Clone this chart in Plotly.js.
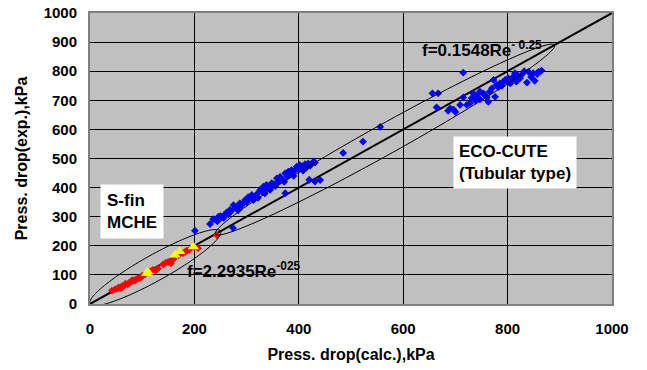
<!DOCTYPE html>
<html>
<head>
<meta charset="utf-8">
<script src="https://cdn.plot.ly/plotly-3.0.1.min.js"></script>
<style>html,body{margin:0;padding:0;background:#fff;}#chart{width:647px;height:370px;}</style>
</head>
<body>
<div id="chart"></div>
<script>
// ECO-CUTE (Tubular type) measurements, blue diamonds
const ecoCalc = [
  230,236,246,252,259,268,275,281,287,297,303,310,313,326,332,338,348,358,364,374,380,386,396,402,412,418,428,431,
  338,361,240,244,250,256,262,265,270,278,284,290,293,300,306,316,320,322,330,335,342,345,352,355,368,372,378,384,390,392,400,406,408,415,422,
  201,274,374,420,431,441,485,523,556,
  656,667,664,686,696,709,722,715,731,741,747,753,760,763,766,770,776,779,785,792,798,801,805,811,814,817,824,837,840,852,849,859,865,773,747,734,715,
  728,738,756,782,789,795,808,820,828,845,832,857,690,700
];
const ecoExp = [
  275,292,300,298,309,323,340,332,346,357,367,375,357,392,403,409,415,432,437,449,455,460,472,478,481,483,489,486,
  398,420,290,284,302,296,315,308,318,330,322,338,345,350,362,370,378,365,385,380,400,392,412,405,428,420,438,446,440,458,462,468,458,470,476,
  252,261,381,427,421,426,519,558,609,
  724,724,676,664,669,684,684,710,707,715,703,724,710,695,730,741,712,753,758,764,767,776,758,781,793,764,776,761,798,767,793,798,802,770,730,724,795,
  690,700,720,745,750,770,772,785,790,780,800,790,672,660
];

// S-fin MCHE measurements, red diamonds
const sfinCalc = [42,48,52,55,58,60,63,66,68,72,75,78,80,83,86,90,93,96,100,106,115,120,126,130,145,150,155,160,170,178,182,185,200,207,243,62,88,98,140,190];
const sfinExp  = [46,50,53,57,55,60,62,64,70,68,73,75,80,82,80,86,88,90,97,103,112,117,115,122,142,145,140,155,168,175,178,183,195,192,237,58,84,93,136,186];

// S-fin MCHE, yellow triangles
const yelCalc = [108,111,163,172,198];
const yelExp  = [105,110,168,180,197];

// Reference line y = x
const lineXY = [0, 1000];

// Tick values
const xTicks = [0, 200, 400, 600, 800, 1000];
const yTicks = [0, 100, 200, 300, 400, 500, 600, 700, 800, 900, 1000];

const W = 522, H = 291; // plot area size in px
const FONT = 'Liberation Sans, Arial, sans-serif';

function ellipsePath(d0, d1, bPx) {
  const sx = W / 1000, sy = H / 1000;
  const x0 = d0 * sx, y0 = d0 * sy, x1 = d1 * sx, y1 = d1 * sy;
  const cx = (x0 + x1) / 2, cy = (y0 + y1) / 2;
  const a = Math.hypot(x1 - x0, y1 - y0) / 2;
  const th = Math.atan2(y1 - y0, x1 - x0);
  let p = '';
  const n = 120;
  for (let i = 0; i <= n; i++) {
    const t = 2 * Math.PI * i / n;
    const px = cx + a * Math.cos(t) * Math.cos(th) - bPx * Math.sin(t) * Math.sin(th);
    const py = cy + a * Math.cos(t) * Math.sin(th) + bPx * Math.sin(t) * Math.cos(th);
    p += (i === 0 ? 'M' : 'L') + (px / sx).toFixed(2) + ',' + (py / sy).toFixed(2);
  }
  return p + 'Z';
}

const traces = [
  {x: lineXY, y: lineXY, mode: 'lines', line: {color: '#000', width: 2}, hoverinfo: 'skip'},
  {x: ecoCalc, y: ecoExp, mode: 'markers', marker: {symbol: 'diamond', size: 6, color: '#0000FF'}},
  {x: sfinCalc, y: sfinExp, mode: 'markers', marker: {symbol: 'diamond', size: 6, color: '#FF0000'}},
  {x: yelCalc, y: yelExp, mode: 'markers', marker: {symbol: 'triangle-up', size: 10, color: '#FFFF00'}}
];

const axisCommon = {
  range: [0, 1000], showgrid: true, gridcolor: '#000', gridwidth: 1,
  showline: true, linecolor: '#808080', linewidth: 2, mirror: true,
  zeroline: false, ticks: '', fixedrange: true,
  tickfont: {family: FONT, size: 15, color: '#000', weight: 'bold'}
};

const layout = {
  width: 647, height: 370,
  margin: {l: 90, r: 35, t: 13, b: 66},
  paper_bgcolor: '#fff', plot_bgcolor: '#C0C0C0',
  showlegend: false,
  xaxis: Object.assign({}, axisCommon, {
    tickvals: xTicks, ticklabelstandoff: 10,
    title: {text: 'Press. drop(calc.),kPa', font: {family: FONT, size: 16, color: '#000', weight: 'bold'}, standoff: 13}
  }),
  yaxis: Object.assign({}, axisCommon, {
    tickvals: yTicks, ticklabelstandoff: 8,
    title: {text: 'Press. drop(exp.),kPa', font: {family: FONT, size: 16, color: '#000', weight: 'bold'}, standoff: 12}
  }),
  shapes: [
    {type: 'path', xref: 'x', yref: 'y', path: ellipsePath(0, 250, 13), line: {color: '#000', width: 1}},
    {type: 'path', xref: 'x', yref: 'y', path: ellipsePath(240, 890, 15), line: {color: '#000', width: 1}}
  ],
  annotations: [
    {x: 632, y: 875, xref: 'x', yref: 'y', xanchor: 'left', yanchor: 'middle', showarrow: false,
     text: 'f=0.1548Re<sup>- 0.25</sup>', font: {family: FONT, size: 17, color: '#000', weight: 'bold'}},
    {x: 182, y: 117, xref: 'x', yref: 'y', xanchor: 'left', yanchor: 'middle', showarrow: false,
     text: 'f=2.2935Re<sup>-025</sup>', font: {family: FONT, size: 17, color: '#000', weight: 'bold'}},
    {x: 695, y: 485, xref: 'x', yref: 'y', xanchor: 'left', yanchor: 'middle', showarrow: false,
     align: 'left', bgcolor: '#fff', borderpad: 5,
     text: 'ECO-CUTE<br>(Tubular type)', font: {family: FONT, size: 17, color: '#000', weight: 'bold'}},
    {x: 19, y: 318, xref: 'x', yref: 'y', xanchor: 'left', yanchor: 'middle', showarrow: false,
     align: 'left', bgcolor: '#fff', borderpad: 6,
     text: 'S-fin<br>MCHE', font: {family: FONT, size: 17, color: '#000', weight: 'bold'}}
  ]
};

Plotly.newPlot('chart', traces, layout, {displayModeBar: false, staticPlot: true});
</script>
</body>
</html>
